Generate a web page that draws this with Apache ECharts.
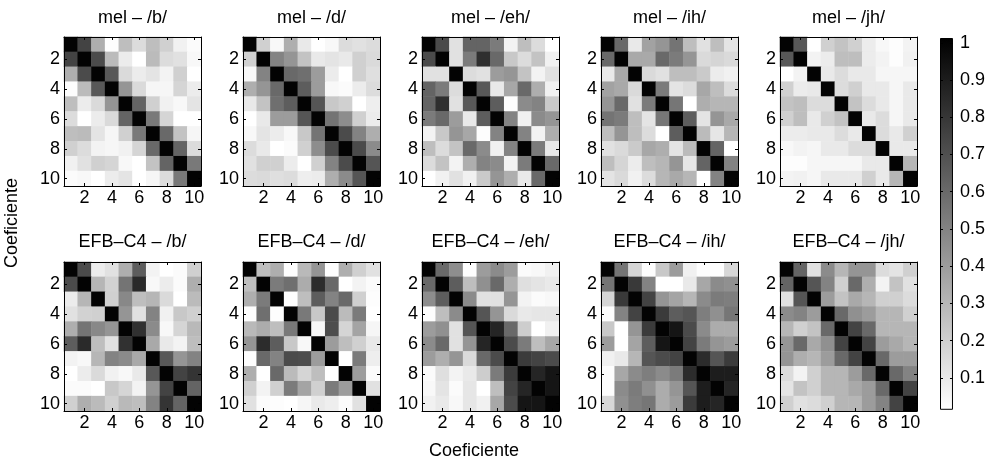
<!DOCTYPE html>
<html><head><meta charset="utf-8">
<script src="https://cdn.jsdelivr.net/npm/echarts@6/dist/echarts.min.js"></script>
<style>html,body{margin:0;padding:0;background:#fff}#c{width:988px;height:464px}</style>
</head><body><div id="c"></div>
<script>
const coefs = ['1','2','3','4','5','6','7','8','9','10'];
const topTitles = ['mel – /b/','mel – /d/','mel – /eh/','mel – /ih/','mel – /jh/'];
const botTitles = ['EFB–C4 – /b/','EFB–C4 – /d/','EFB–C4 – /eh/','EFB–C4 – /ih/','EFB–C4 – /jh/'];
const cbTicks = [0.1,0.2,0.3,0.4,0.5,0.6,0.7,0.8,0.9,1];
const cbTickLabels = ['0.1','0.2','0.3','0.4','0.5','0.6','0.7','0.8','0.9','1'];
const cbMin = 0.014, cbMax = 1.013;

const melB = [
[1,.75,.33,.02,.27,.15,.27,.2,.07,.03],
[.75,1,.72,.28,.09,.01,.28,.15,.13,.04],
[.33,.72,1,.67,.16,.09,.12,.06,.2,.01],
[.02,.28,.67,1,.43,.16,.05,.05,.18,.09],
[.27,.09,.16,.43,1,.62,.2,.07,.04,.12],
[.15,.01,.09,.16,.62,1,.54,.18,.01,.01],
[.27,.28,.12,.05,.2,.54,1,.6,.25,.05],
[.2,.15,.06,.05,.07,.18,.6,1,.62,.15],
[.07,.13,.2,.18,.04,.01,.25,.62,1,.54],
[.03,.04,.01,.09,.12,.01,.05,.15,.54,1]];
const melD = [
[1,.2,.04,.33,.1,.01,.04,.15,.13,.15],
[.2,1,.5,.43,.25,.1,.12,.1,.2,.16],
[.04,.5,1,.6,.58,.4,.09,.01,.2,.14],
[.33,.43,.6,1,.65,.4,.04,.03,.09,.15],
[.1,.25,.58,.65,1,.68,.23,.2,.01,.08],
[.01,.1,.4,.4,.68,1,.56,.46,.2,.09],
[.04,.12,.09,.04,.23,.56,1,.72,.5,.33],
[.15,.1,.01,.03,.2,.46,.72,1,.72,.47],
[.13,.2,.2,.09,.01,.2,.5,.72,1,.68],
[.15,.16,.14,.15,.08,.09,.33,.47,.68,1]];
const melEh = [
[1,.72,.13,.62,.62,.53,.06,.27,.15,.01],
[.72,1,.13,.53,.83,.6,.23,.15,.25,.07],
[.13,.13,1,.15,.13,.4,.43,.25,.06,.13],
[.62,.53,.15,1,.67,.1,.36,.6,.33,.07],
[.62,.83,.13,.67,1,.65,.02,.47,.5,.22],
[.53,.6,.4,.1,.65,1,.5,.07,.47,.43],
[.06,.23,.43,.36,.02,.5,1,.5,.06,.33],
[.27,.15,.25,.6,.47,.07,.5,1,.53,.1],
[.15,.25,.06,.33,.5,.47,.06,.53,1,.6],
[.01,.07,.13,.07,.22,.43,.33,.1,.6,1]];
const melIh = [
[1,.6,.1,.38,.43,.56,.27,.13,.27,.12],
[.6,1,.35,.35,.6,.53,.43,.16,.18,.16],
[.1,.35,1,.16,.13,.27,.27,.22,.09,.07],
[.38,.35,.16,1,.53,.12,.15,.36,.27,.15],
[.43,.6,.13,.53,1,.55,.01,.33,.3,.3],
[.56,.53,.27,.12,.55,1,.65,.12,.43,.35],
[.27,.43,.27,.15,.01,.65,1,.28,.11,.3],
[.13,.16,.22,.36,.33,.12,.28,1,.62,.01],
[.27,.18,.09,.27,.3,.43,.11,.62,1,.5],
[.12,.16,.07,.15,.3,.35,.3,.01,.5,1]];
const melJh = [
[1,.67,.01,.2,.25,.2,.09,.04,.02,.06],
[.67,1,.06,.09,.27,.27,.09,.06,.02,.07],
[.01,.06,1,.1,.15,.1,.1,.05,.05,.05],
[.2,.09,.1,1,.15,.2,.1,.1,.05,.1],
[.25,.27,.15,.15,1,.25,.15,.1,.05,.1],
[.2,.27,.1,.2,.25,1,.1,.15,.05,.1],
[.09,.09,.1,.1,.15,.1,1,.15,.1,.2],
[.04,.06,.05,.1,.1,.15,.15,1,.1,.1],
[.02,.02,.05,.05,.05,.05,.1,.1,1,.3],
[.06,.07,.05,.1,.1,.1,.2,.1,.3,1]];
const efbB = [
[1,.72,.09,.13,.33,.65,.06,.01,.03,.2],
[.72,1,.3,.19,.56,.85,.04,.09,.03,.33],
[.09,.3,1,.2,.48,.27,.3,.16,.01,.28],
[.13,.19,.2,1,.43,.13,.5,.07,.23,.2],
[.33,.56,.48,.43,1,.82,.47,.04,.18,.29],
[.65,.85,.27,.13,.82,1,.35,.1,.06,.27],
[.06,.04,.3,.5,.47,.35,1,.67,.43,.5],
[.01,.09,.16,.07,.04,.1,.67,1,.75,.81],
[.03,.03,.01,.23,.18,.06,.43,.75,1,.62],
[.2,.33,.28,.2,.29,.27,.5,.81,.62,1]];
const efbD = [
[1,.27,.33,.02,.29,.43,.02,.33,.2,.13],
[.27,1,.53,.58,.34,.84,.6,.01,.06,.03],
[.33,.53,1,.02,.27,.65,.5,.6,.2,.02],
[.02,.58,.02,1,.54,.23,.72,.28,.53,.01],
[.29,.34,.27,.54,1,.04,.71,.18,.37,.05],
[.43,.84,.65,.23,.04,1,.4,.27,.2,.1],
[.02,.6,.5,.72,.71,.4,1,.01,.53,.08],
[.33,.01,.6,.28,.18,.27,.01,1,.4,.03],
[.2,.06,.2,.53,.37,.2,.53,.4,1,.13],
[.13,.03,.02,.01,.05,.1,.08,.03,.13,1]];
const efbEh = [
[1,.6,.46,.02,.4,.47,.4,.03,.04,.07],
[.6,1,.65,.27,.45,.6,.33,.14,.12,.1],
[.46,.65,1,.47,.13,.13,.43,.06,.03,.04],
[.02,.27,.47,1,.68,.43,.16,.1,.11,.11],
[.4,.45,.13,.68,1,.87,.6,.21,.01,.07],
[.47,.6,.13,.43,.87,1,.72,.53,.27,.36],
[.4,.33,.43,.16,.6,.72,1,.78,.75,.72],
[.03,.14,.06,.1,.21,.53,.78,1,.87,.93],
[.04,.12,.03,.11,.01,.27,.75,.87,1,.93],
[.07,.1,.04,.11,.07,.36,.72,.93,.93,1]];
const efbIh = [
[1,.56,.18,.02,.23,.4,.07,.02,.02,.17],
[.56,1,.79,.5,.01,.01,.1,.36,.47,.45],
[.18,.79,1,.75,.43,.37,.3,.47,.53,.52],
[.02,.5,.75,1,.78,.65,.68,.52,.45,.55],
[.23,.01,.43,.78,1,.93,.72,.47,.34,.34],
[.4,.01,.37,.65,.93,1,.75,.53,.43,.4],
[.07,.1,.3,.68,.72,.75,1,.84,.68,.78],
[.02,.36,.47,.52,.47,.53,.84,1,.9,.9],
[.02,.47,.53,.45,.34,.43,.68,.9,1,.87],
[.17,.45,.52,.55,.34,.4,.78,.9,.87,1]];
const efbJh = [
[1,.62,.13,.47,.3,.43,.43,.15,.12,.2],
[.62,1,.68,.5,.2,.6,.33,.06,.25,.13],
[.13,.68,1,.4,.25,.35,.3,.2,.2,.15],
[.47,.5,.4,1,.6,.45,.4,.3,.3,.2],
[.3,.2,.25,.6,1,.75,.6,.3,.3,.3],
[.43,.6,.35,.45,.75,1,.75,.4,.35,.3],
[.43,.33,.3,.4,.6,.75,1,.6,.4,.4],
[.15,.06,.2,.3,.3,.4,.6,1,.6,.5],
[.12,.25,.2,.3,.3,.35,.4,.6,1,.75],
[.2,.13,.15,.2,.3,.3,.4,.5,.75,1]];

const matrices = [melB, melD, melEh, melIh, melJh, efbB, efbD, efbEh, efbIh, efbJh];
const titles = topTitles.concat(botTitles);

const FONT = '"Liberation Sans", Arial, Helvetica, sans-serif';
const FS = 18;
const lefts = [64, 243, 422, 601, 780];
const tops = [37, 262];
const W = 137, H = 149;

const chart = echarts.init(document.getElementById('c'));
const grid = [], xAxis = [], yAxis = [], series = [], graphic = [];
const evenIdx = (i) => i % 2 === 1;
const lbl = {fontSize: FS, color: '#000', fontFamily: FONT};
const tickStyle = {show:true, inside:true, length:3, interval:evenIdx, alignWithLabel:true, lineStyle:{color:'#000'}};
const lineStyle = {show:true, lineStyle:{color:'#000', width:1}};

matrices.forEach((m, k) => {
  const col = k % 5, row = Math.floor(k / 5);
  grid.push({left: lefts[col], top: tops[row], width: W, height: H});
  const baseX = xAxis.length, baseY = yAxis.length;
  xAxis.push({type:'category', gridIndex:k, data:coefs, position:'bottom', z:10,
    axisLine:lineStyle, axisTick:tickStyle,
    axisLabel:Object.assign({interval:evenIdx, margin:3}, lbl), splitLine:{show:false}});
  xAxis.push({type:'category', gridIndex:k, data:coefs, position:'top', z:10,
    axisLine:lineStyle, axisTick:tickStyle, axisLabel:{show:false}, splitLine:{show:false}});
  yAxis.push({type:'category', gridIndex:k, data:coefs, inverse:true, position:'left', z:10,
    axisLine:lineStyle, axisTick:tickStyle,
    axisLabel:Object.assign({interval:evenIdx, margin:4}, lbl), splitLine:{show:false}});
  yAxis.push({type:'category', gridIndex:k, data:coefs, inverse:true, position:'right', z:10,
    axisLine:lineStyle, axisTick:tickStyle, axisLabel:{show:false}, splitLine:{show:false}});
  const data = [];
  m.forEach((r, i) => r.forEach((v, j) => data.push([j, i, v])));
  series.push({type:'heatmap', xAxisIndex:baseX, yAxisIndex:baseY, data:data,
    emphasis:{disabled:true}, itemStyle:{borderWidth:0}, progressive:0});
  graphic.push({type:'text', x: lefts[col] + W/2, y: row === 0 ? 18 : 242,
    style:{text: titles[k], textAlign:'center', textVerticalAlign:'middle', font:FS + 'px ' + FONT, fill:'#000'}});
});

// colorbar
const cbGrid = grid.length;
grid.push({left:940, top:38, width:14, height:377});
const cbX = xAxis.length;
xAxis.push({type:'category', gridIndex:cbGrid, data:['cb'], show:false});
const cbY = yAxis.length;
yAxis.push({type:'value', gridIndex:cbGrid, min:0, max:cbMax, position:'right', z:10,
  axisLine:{show:false}, splitLine:{show:false},
  axisTick:{show:true, inside:true, length:3, customValues:cbTicks, lineStyle:{color:'#000'}},
  axisLabel:Object.assign({margin:7, customValues:cbTicks, formatter:(v) => {
    const i = cbTicks.findIndex(t => Math.abs(t - v) < 1e-6);
    return i >= 0 ? cbTickLabels[i] : '';
  }}, lbl)});
yAxis.push({type:'value', gridIndex:cbGrid, min:0, max:cbMax, position:'left', z:10,
  axisLine:{show:false}, splitLine:{show:false}, axisLabel:{show:false},
  axisTick:{show:true, inside:true, length:3, customValues:cbTicks, lineStyle:{color:'#000'}}});
series.push({type:'bar', xAxisIndex:cbX, yAxisIndex:cbY, stack:'cb', barWidth:'100%', silent:true,
  data:[cbMin], itemStyle:{color:'rgba(0,0,0,0)'}});
series.push({type:'bar', xAxisIndex:cbX, yAxisIndex:cbY, stack:'cb', barWidth:'100%', silent:true,
  data:[cbMax - cbMin], itemStyle:{borderColor:'#000', borderWidth:1,
    color:new echarts.graphic.LinearGradient(0,0,0,1,[{offset:0,color:'#000'},{offset:1,color:'#fff'}])}});

graphic.push({type:'text', x:474, y:451, style:{text:'Coeficiente', textAlign:'center', textVerticalAlign:'middle', font:FS + 'px ' + FONT, fill:'#000'}});
graphic.push({type:'text', x:12, y:223, rotation:Math.PI/2, style:{text:'Coeficiente', textAlign:'center', textVerticalAlign:'middle', font:FS + 'px ' + FONT, fill:'#000'}});

chart.setOption({
  animation:false,
  backgroundColor:'#fff',
  grid, xAxis, yAxis, series, graphic,
  visualMap:{type:'continuous', show:false, min:cbMin, max:cbMax, seriesIndex:[0,1,2,3,4,5,6,7,8,9],
    inRange:{color:['#ffffff','#000000']}}
});
</script></body></html>
